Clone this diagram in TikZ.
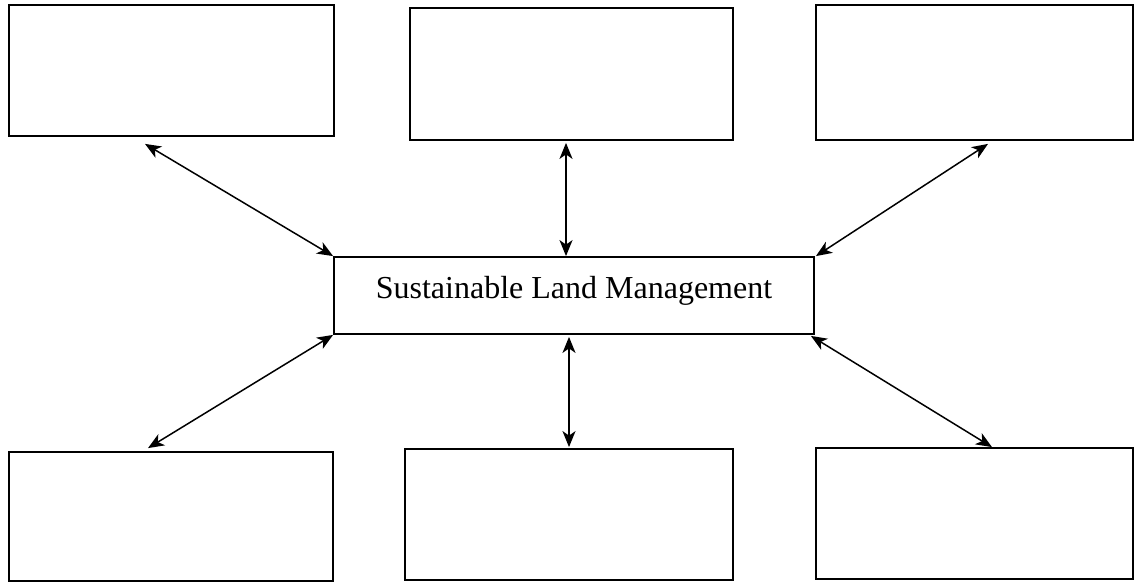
\documentclass[tikz,border=0pt]{standalone}
\usepackage{fontspec}
\setmainfont{Liberation Serif}
\usetikzlibrary{arrows.meta}
\begin{document}
\begin{tikzpicture}[x=1pt,y=-1pt,
  box/.style={draw=black, line width=1.8pt, inner sep=0pt, fill=white},
  tip/.tip={Stealth[length=16pt,width=13pt,inset=4.5pt]},
  arr/.style={line width=1.5pt, tip-tip}]
\useasboundingbox (0,0) rectangle (1136,584);
\node[box, minimum width=325pt, minimum height=131pt] (tl) at (171.5,70.5) {};
\node[box, minimum width=323pt, minimum height=132pt] (tm) at (571.5,74) {};
\node[box, minimum width=317pt, minimum height=135pt] (tr) at (974.5,72.5) {};
\node[box, minimum width=480pt, minimum height=77pt, text height=22pt, text depth=17pt,
      font=\fontsize{32}{38}\selectfont] (c) at (574,295.5) {Sustainable Land Management};
\node[box, minimum width=324pt, minimum height=129pt] (bl) at (171,516.5) {};
\node[box, minimum width=328pt, minimum height=131pt] (bm) at (569,514.5) {};
\node[box, minimum width=317pt, minimum height=131pt] (br) at (974.5,513.5) {};
\draw[arr] ([shift={(-26.5,7)}]tl.south) -- (c.north west);
\draw[arr] ([shift={(-5.5,2)}]tm.south) -- ([shift={(-8,0)}]c.north);
\draw[arr] ([shift={(13.5,3)}]tr.south) -- ([shift={(1,0)}]c.north east);
\draw[arr] (c.south west) -- ([shift={(-23,-3)}]bl.north);
\draw[arr] ([shift={(-5,2)}]c.south) -- ([shift={(0,-1)}]bm.north);
\draw[arr] ([shift={(-4,1)}]c.south east) -- ([shift={(17.5,0)}]br.north);
\end{tikzpicture}
\end{document}
